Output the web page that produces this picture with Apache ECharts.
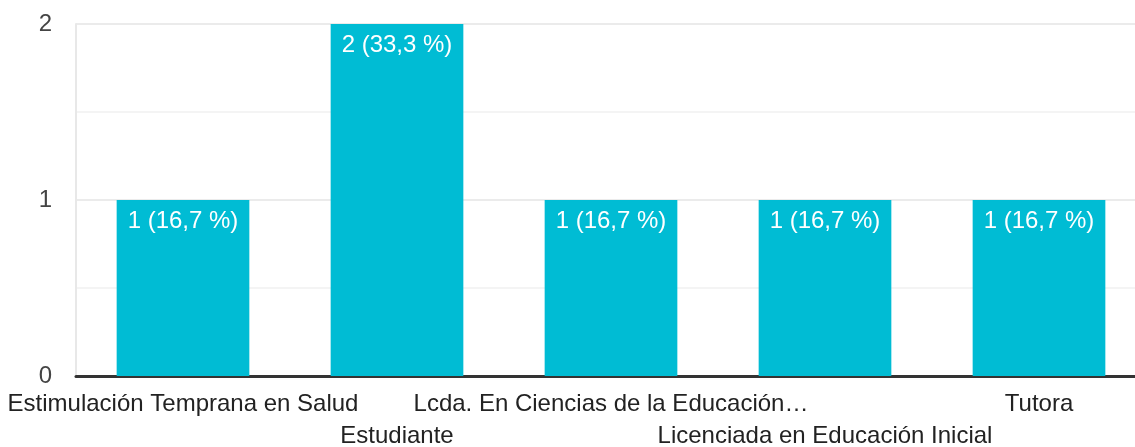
<!DOCTYPE html>
<html><head><meta charset="utf-8">
<script src="https://cdn.jsdelivr.net/npm/echarts@6/dist/echarts.min.js"></script>
<style>html,body{margin:0;padding:0;background:#fff}#c{width:1135px;height:447px}</style>
</head><body><div id="c"></div>
<script>
const categories = ["Estimulación Temprana en Salud","Estudiante","Lcda. En Ciencias de la Educación…","Licenciada en Educación Inicial","Tutora"];
const counts = [1,2,1,1,1];
const percents = ["16,7","33,3","16,7","16,7","16,7"];
const yTicks = [0,1,2];

const chart = echarts.init(document.getElementById('c'));
chart.setOption({
  animation:false,
  grid:{left:76,width:1070,top:24,bottom:71,containLabel:false,outerBoundsMode:'none'},
  xAxis:{type:'category',data:categories,
    axisLine:{show:true,lineStyle:{color:'#333',width:3}},
    axisTick:{show:false},
    splitLine:{show:false},
    axisLabel:{interval:0,color:'#222',fontSize:24,fontFamily:'Liberation Sans, Arial',margin:12,lineHeight:32,
      formatter:(v,i)=> i%2===1 ? '\n'+v : v}
  },
  yAxis:{type:'value',min:0,max:2,interval:1,
    axisLine:{show:true,lineStyle:{color:'#e8e8e8',width:2}},
    axisTick:{show:false},
    axisLabel:{color:'#444',fontSize:24,fontFamily:'Liberation Sans, Arial',margin:24,
      formatter:v=> yTicks.includes(v)?String(v):''},
    splitLine:{show:true,lineStyle:{color:'#ebebeb',width:2}},
    minorTick:{show:false,splitNumber:2},
    minorSplitLine:{show:true,lineStyle:{color:'#f4f4f4',width:2}}
  },
  series:[{type:'bar',data:counts,barWidth:'62%',
    itemStyle:{color:'#00BCD4'},
    label:{show:true,position:'insideTop',distance:9,color:'#fff',fontSize:24,fontFamily:'Liberation Sans, Arial',
      formatter:p=> p.value+' ('+percents[p.dataIndex]+' %)'}
  }]
});
</script></body></html>
